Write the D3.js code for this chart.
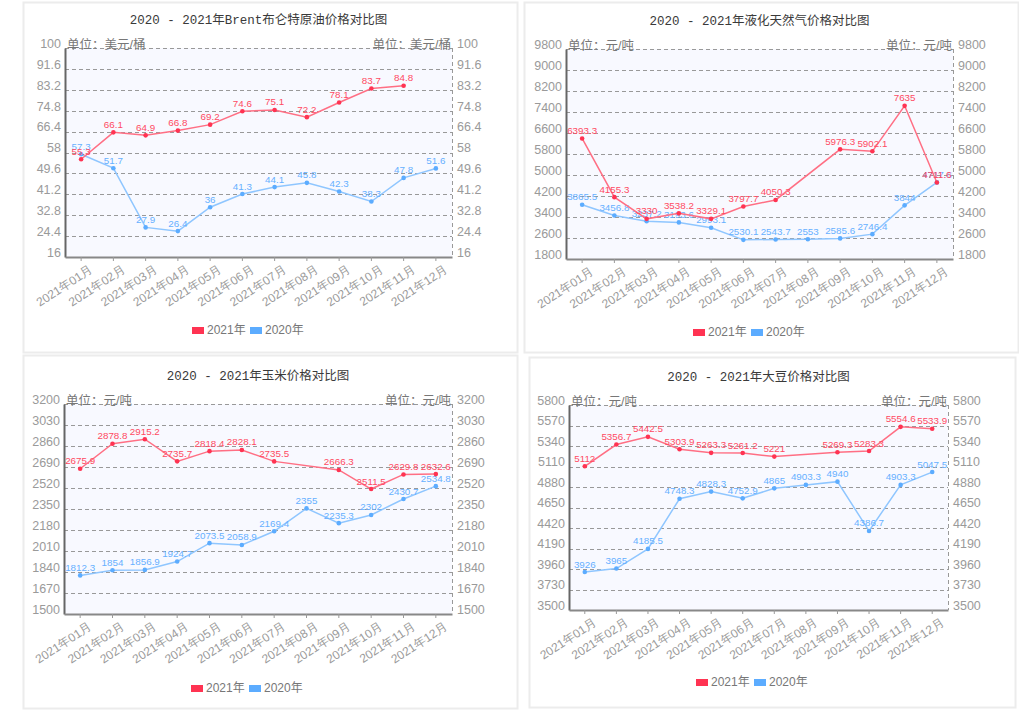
<!DOCTYPE html>
<html><head><meta charset="utf-8">
<script src="https://cdn.jsdelivr.net/npm/d3@7"></script>
<style>
body{margin:0;background:#fff;}
svg{display:block;font-family:"Liberation Sans","Noto Sans CJK SC",sans-serif;}
</style></head>
<body><svg id="c" width="1019" height="712"></svg>
<script>
const months = ["2021年01月","2021年02月","2021年03月","2021年04月","2021年05月","2021年06月","2021年07月","2021年08月","2021年09月","2021年10月","2021年11月","2021年12月"];
const seriesNames = ["2021年","2020年"];

const titles = ["2020 - 2021年Brent布仑特原油价格对比图","2020 - 2021年液化天然气价格对比图","2020 - 2021年玉米价格对比图","2020 - 2021年大豆价格对比图"];
const units = ["单位：美元/桶","单位：元/吨","单位：元/吨","单位：元/吨"];

const brentTicks = [16,24.4,32.8,41.2,49.6,58,66.4,74.8,83.2,91.6,100];
const brent2021 = [55.3,66.1,64.9,66.8,69.2,74.6,75.1,72.2,78.1,83.7,84.8,null];
const brent2020 = [57.3,51.7,27.9,26.4,36,41.3,44.1,45.8,42.3,38.3,47.8,51.6];

const lngTicks = [1800,2600,3400,4200,5000,5800,6600,7400,8200,9000,9800];
const lng2021 = [6393.3,4155.3,3330,3538.2,3329.1,3797.7,4050.3,null,5976.3,5902.1,7635,4711.6];
const lng2020 = [3865.5,3456.8,3237.2,3193.6,2993.1,2530.1,2543.7,2553,2585.6,2746.4,3844,4717.6];

const cornTicks = [1500,1670,1840,2010,2180,2350,2520,2690,2860,3030,3200];
const corn2021 = [2675.9,2878.8,2915.2,2735.7,2818.4,2828.1,2735.5,null,2666.3,2511.5,2629.8,2632.6];
const corn2020 = [1812.3,1854,1856.9,1924.7,2073.5,2058.9,2169.4,2355,2235.3,2302,2430.7,2534.8];

const soyTicks = [3500,3730,3960,4190,4420,4650,4880,5110,5340,5570,5800];
const soy2021 = [5112,5356.7,5442.5,5303.9,5263.3,5261.2,5221,null,5269.3,5283.3,5554.6,5533.9];
const soy2020 = [3926,3965,4185.5,4748.3,4828.3,4752.9,4865,4903.3,4940,4386.7,4903.3,5047.5];

const panels = [
  {box:[23,2,494,350], plot:[65,48,452,257], titleY:20, legendY:330, ticks:brentTicks, a:brent2021, b:brent2020, t:0},
  {box:[524,2,494,350], plot:[566,49,953,259], titleY:21, legendY:332, ticks:lngTicks, a:lng2021, b:lng2020, t:1},
  {box:[23,355,494,353], plot:[64,404,452,614], titleY:376, legendY:688, ticks:cornTicks, a:corn2021, b:corn2020, t:2},
  {box:[529,357,486,350], plot:[569,405,948,610], titleY:377, legendY:682, ticks:soyTicks, a:soy2021, b:soy2020, t:3}
];

const colors = {
  legend:["#ff3352","#5cacff"],
  line:["#ff6f84","#8fc6ff"],
  label:["#ff4a62","#66b0ff"]
};

const svg = d3.select("#c");

panels.forEach(p => {
  const g = svg.append("g");
  const [bx,by,bw,bh] = p.box;
  g.append("rect").attr("x",bx+0.5).attr("y",by+0.5).attr("width",bw).attr("height",bh)
    .attr("fill","#fff").attr("stroke","#ececec").attr("stroke-width",2);

  const [L,T,R,B] = p.plot;
  const x = d3.scaleBand().domain(months).range([L,R]).padding(0);
  const y = d3.scaleLinear().domain([p.ticks[0],p.ticks[p.ticks.length-1]]).range([B,T]);

  g.append("rect").attr("x",L).attr("y",T).attr("width",R-L).attr("height",B-T).attr("fill","#f8f9ff");

  g.append("g").selectAll("line").data(p.ticks.slice(1)).join("line")
    .attr("x1",L).attr("x2",R).attr("y1",d=>Math.round(y(d))+0.5).attr("y2",d=>Math.round(y(d))+0.5)
    .attr("stroke","#999").attr("stroke-dasharray","4,3").attr("stroke-width",1);

  g.append("line").attr("x1",R+0.5).attr("x2",R+0.5).attr("y1",T).attr("y2",B)
    .attr("stroke","#999").attr("stroke-dasharray","4,3");

  const la = g.append("g").attr("transform",`translate(${L},0)`)
    .call(d3.axisLeft(y).tickValues(p.ticks).tickSize(0).tickPadding(4).tickFormat(d=>d));
  la.select(".domain").attr("stroke","#666").attr("stroke-width",2);
  la.selectAll("text").attr("fill","#9a9a9a").attr("font-size",12.5).attr("dy","-0.05em");

  const ra = g.append("g").attr("transform",`translate(${R},0)`)
    .call(d3.axisRight(y).tickValues(p.ticks).tickSize(0).tickPadding(5).tickFormat(d=>d));
  ra.select(".domain").remove();
  ra.selectAll("text").attr("fill","#9a9a9a").attr("font-size",12.5).attr("dy","-0.05em");

  const ba = g.append("g").attr("transform",`translate(0,${B})`)
    .call(d3.axisBottom(x).tickSize(4).tickSizeOuter(0).tickPadding(3));
  ba.select(".domain").attr("stroke","#888").attr("stroke-width",2);
  ba.selectAll(".tick line").attr("stroke","#999");
  ba.selectAll("text").attr("fill","#9a9a9a").attr("font-size",12)
    .attr("text-anchor","end").attr("dy","0.7em")
    .attr("transform","translate(4,2) rotate(-33)");

  g.append("text").attr("x",L+2).attr("y",T+1).attr("fill","#777").attr("font-size",12.5).text(units[p.t]);
  g.append("text").attr("x",R-1).attr("y",T+1).attr("fill","#777").attr("font-size",12.5)
    .attr("text-anchor","end").text(units[p.t]);

  g.append("text").attr("x",(L+R)/2).attr("y",p.titleY+4).attr("text-anchor","middle")
    .attr("fill","#3a3a3a").attr("font-size",12.5)
    .attr("font-family","'Liberation Mono','Noto Sans CJK SC',monospace").text(titles[p.t]);

  [p.b, p.a].forEach(arr => {
    const si = arr === p.a ? 0 : 1;
    const pts = arr.map((v,i)=>({v,m:months[i]})).filter(d=>d.v!==null);
    const line = d3.line().x(d=>x(d.m)+x.bandwidth()/2).y(d=>y(d.v));
    g.append("path").datum(pts).attr("d",line).attr("fill","none")
      .attr("stroke",colors.line[si]).attr("stroke-width",1.5);
    g.append("g").selectAll("circle").data(pts).join("circle")
      .attr("cx",d=>x(d.m)+x.bandwidth()/2).attr("cy",d=>y(d.v)).attr("r",2.3)
      .attr("fill",colors.legend[si]);
    g.append("g").selectAll("text").data(pts).join("text")
      .attr("x",d=>x(d.m)+x.bandwidth()/2).attr("y",d=>y(d.v)-4.5)
      .attr("text-anchor","middle").attr("font-size",9.8).attr("fill",colors.label[si])
      .text(d=>d.v);
  });

  const lx = L + 127;
  seriesNames.forEach((n,i) => {
    const ox = lx + i*58;
    g.append("rect").attr("x",ox).attr("y",p.legendY-3).attr("width",12).attr("height",7)
      .attr("fill",colors.legend[i]);
    g.append("text").attr("x",ox+15).attr("y",p.legendY+4).attr("font-size",12)
      .attr("fill","#777").text(n);
  });
});
</script></body></html>
